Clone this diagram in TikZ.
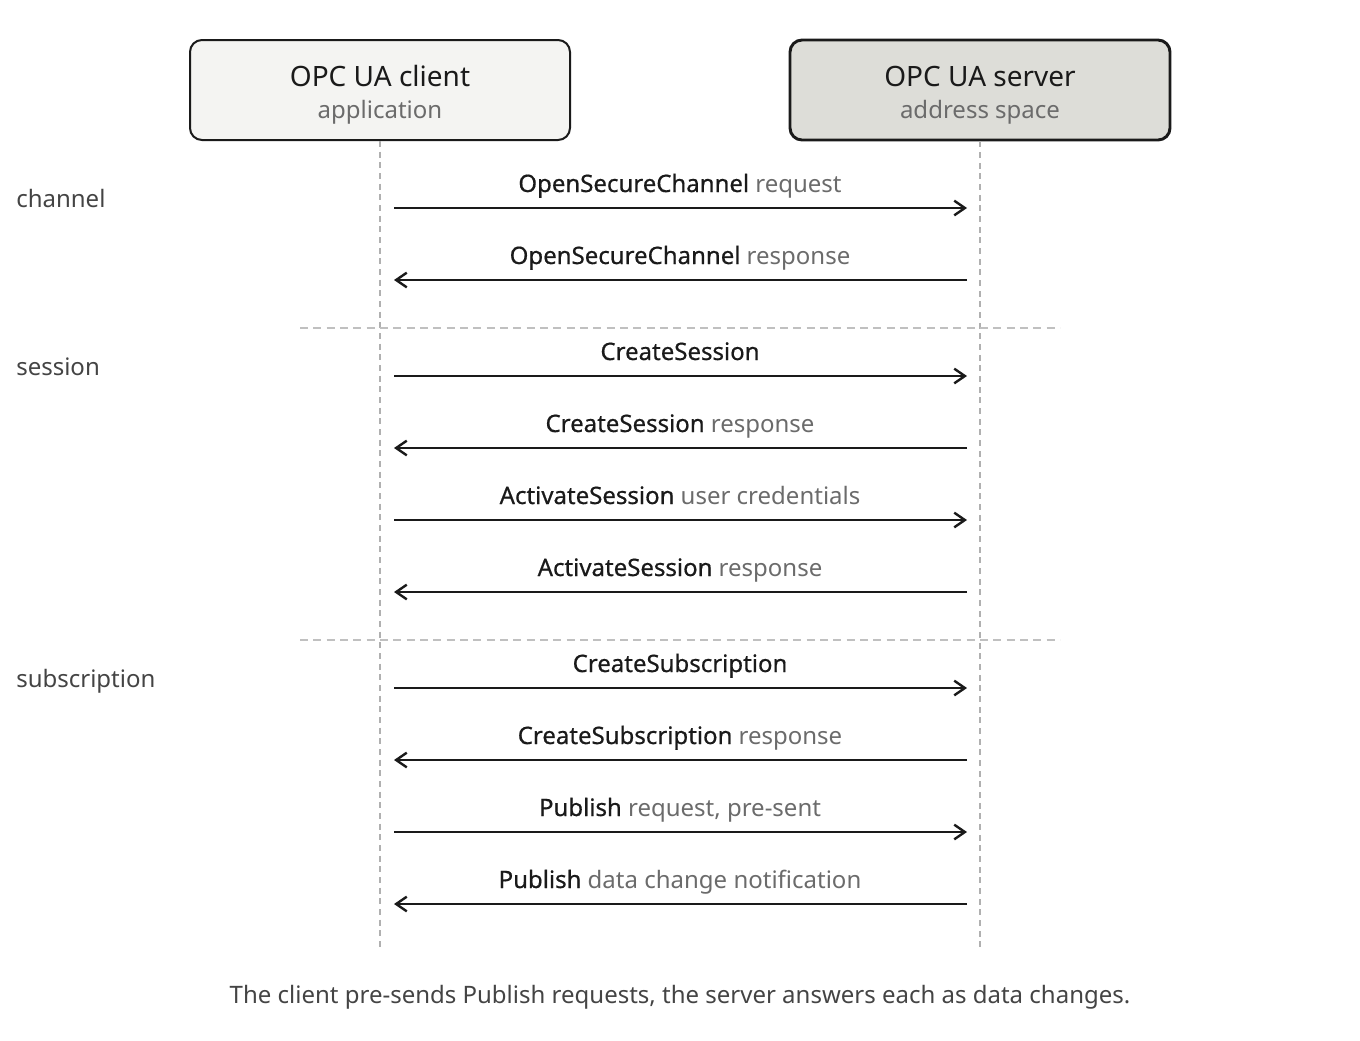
\documentclass[tikz,border=0pt]{standalone}
\usepackage{fontspec}
\setmainfont{Noto Sans}
\newfontface\namefont{Noto Sans}[FakeBold=0.6]
\usetikzlibrary{arrows.meta,positioning}
\definecolor{inkdark}{RGB}{26,26,26}
\definecolor{notegray}{RGB}{107,107,107}
\definecolor{labelgray}{RGB}{68,68,68}
\definecolor{lifegray}{RGB}{176,176,176}
\definecolor{sepgray}{RGB}{192,192,192}
\definecolor{clientfill}{RGB}{244,244,242}
\definecolor{serverfill}{RGB}{221,221,216}

\begin{document}
\begin{tikzpicture}[x=0.75pt, y=-0.75pt,
    actor/.style={rectangle, draw=inkdark, rounded corners=9pt, minimum width=285pt, minimum height=75pt, inner sep=0pt},
    title/.style={anchor=base, font=\fontsize{21}{25}\selectfont, text=inkdark, inner sep=0pt},
    subtitle/.style={anchor=base, font=\fontsize{18}{21}\selectfont, text=notegray, inner sep=0pt},
    lifeline/.style={lifegray, line width=1.1pt, dash pattern=on 4.5pt off 3.5pt},
    separator/.style={sepgray, line width=1.1pt, dash pattern=on 6pt off 4pt},
    msg/.style={-{Straight Barb[length=8pt, width=11pt, line width=1.8pt]}, line width=1.8pt, inkdark},
    msglabel/.style={anchor=base, font=\fontsize{18}{21}\selectfont, inner sep=0pt},
    phase/.style={anchor=base west, font=\fontsize{18}{21}\selectfont, text=labelgray, inner sep=0pt}]
    \useasboundingbox (0,0) rectangle (1360,1040);

    % participants
    \node[actor, fill=clientfill, line width=1.5pt] (client) at (380,90) {};
    \node[title] (clienttitle) at (380,86) {OPC UA client};
    \node[subtitle] (clientsub) at (380,118) {application};
    \node[actor, fill=serverfill, line width=2.2pt] (server) at (980,90) {};
    \node[title] (servertitle) at (980,86) {OPC UA server};
    \node[subtitle] (serversub) at (980,118) {address space};

    % lifelines
    \coordinate (clientend) at (380,948);
    \coordinate (serverend) at (980,948);
    \draw[lifeline] (client.south) -- (clientend);
    \draw[lifeline] (server.south) -- (serverend);

    % phases
    \draw[separator] (300,328) -- (1060,328);
    \draw[separator] (300,640) -- (1060,640);
    \node[phase] (channel) at (16,207) {channel};
    \node[phase] (session) at (16,375) {session};
    \node[phase] (subscription) at (16,687) {subscription};

    % messages
    \foreach \i/\y/\from/\to/\name/\note in {
        1/208/cl/sv/OpenSecureChannel/{~request},
        2/280/sv/cl/OpenSecureChannel/{~response},
        3/376/cl/sv/CreateSession/{},
        4/448/sv/cl/CreateSession/{~response},
        5/520/cl/sv/ActivateSession/{~user credentials},
        6/592/sv/cl/ActivateSession/{~response},
        7/688/cl/sv/CreateSubscription/{},
        8/760/sv/cl/CreateSubscription/{~response},
        9/832/cl/sv/Publish/{~request, pre-sent},
        10/904/sv/cl/Publish/{~data change notification}} {
        \coordinate (cl\i) at (394,\y);
        \coordinate (sv\i) at (967,\y);
        \draw[msg] (\from\i) -- (\to\i);
        \node[msglabel] (label\i) at (680,\y-16) {\textcolor{inkdark}{\namefont\name}\textcolor{notegray}{\note}};
    }

    % caption
    \node[anchor=base, font=\fontsize{18}{21}\selectfont, text=labelgray, inner sep=0pt] (caption) at (680,1003)
        {The client pre-sends Publish requests, the server answers each as data changes.};
\end{tikzpicture}
\end{document}
